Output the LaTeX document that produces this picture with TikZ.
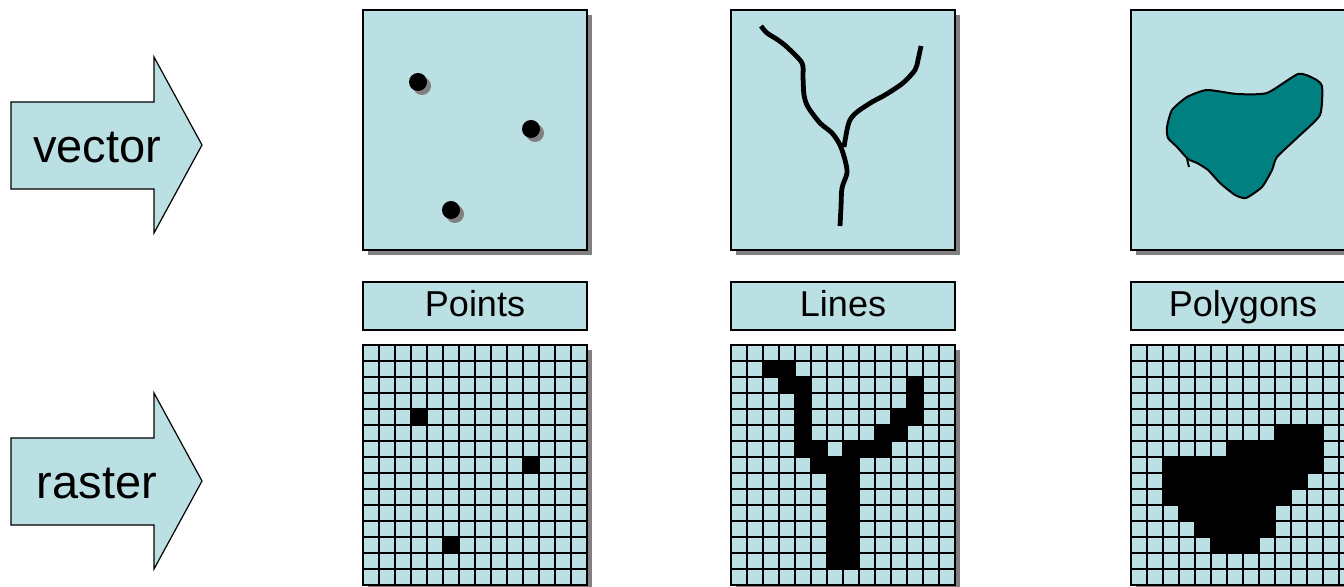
\documentclass[tikz,border=0pt]{standalone}
\usepackage{fontspec}
\setmainfont{Liberation Sans}
\usetikzlibrary{shadows}
\definecolor{pale}{HTML}{BBE0E3}
\definecolor{lake}{HTML}{008080}
\definecolor{darkgray}{HTML}{808080}

\begin{document}
\begin{tikzpicture}[
  x=0.5pt, y=-0.5pt,
  panel/.style={draw, line width=1.1pt, fill=pale, inner sep=0pt,
    minimum width=112pt, minimum height=120pt,
    drop shadow={shadow xshift=2.5pt, shadow yshift=-2.5pt, fill=darkgray, opacity=1}},
  tag/.style={draw, line width=1.1pt, fill=pale, inner sep=0pt,
    minimum width=112pt, minimum height=24pt, text height=12pt, text depth=1.5pt,
    font=\fontsize{18}{20}\selectfont},
  bigarrow/.style={draw, line width=0.6pt, fill=pale},
  word/.style={font=\fontsize{23.5}{26}\selectfont},
  stream/.style={line width=2.4pt, line join=round},
  gridline/.style={line width=1pt}
]
\useasboundingbox (0,0) rectangle (1344,587);
\clip (0,0) rectangle (1344,587);

% the two big arrows
\draw[bigarrow] (11,102) -- (154,102) -- (154,57) -- (202,145) -- (154,233)
  -- (154,189) -- (11,189) -- cycle;
\draw[bigarrow] (11,438) -- (154,438) -- (154,393) -- (202,481) -- (154,569)
  -- (154,525) -- (11,525) -- cycle;
\node[word] (vectxt) at (97,148) {vector};
\node[word] (rastxt) at (97,484) {raster};

% vector panels
\node[panel] (ptsvec) at (475,130) {};
\node[panel] (linvec) at (843,130) {};
\node[panel] (polvec) at (1243,130) {};

% raster panels
\node[panel] (ptsras) at (475,465) {};
\node[panel] (linras) at (843,465) {};
\node[panel] (polras) at (1243,465) {};

% captions
\node[tag] (ptstag) at (475,306) {Points};
\node[tag] (lintag) at (843,306) {Lines};
\node[tag] (poltag) at (1243,306) {Polygons};

% points
\foreach \px/\py in {418/82,531/129,451/210} {
  \fill[darkgray] (\px+4,\py+4) circle[radius=4.5pt];
  \fill[black] (\px,\py) circle[radius=4.5pt];
}

% lines
\draw[stream] plot[smooth, tension=0.5] coordinates {(761,26) (767,33) (778,40)
  (788,48) (802,63) (803,77) (804,95) (808,107) (820,123) (832,133) (840,145)
  (845,160) (847,173) (842,188) (841,207) (840,226)};
\draw[stream] plot[smooth, tension=0.5] coordinates {(921,46) (918,60) (915,70)
  (903,83) (885,95) (872,102) (857,112) (850,120) (847,130) (844,147)};

% polygon
\draw[line width=1pt, fill=lake] plot[smooth cycle, tension=0.35] coordinates {
  (1207,90) (1237,94) (1267,93) (1298,74) (1313,78) (1322,86) (1320,115)
  (1298,137) (1277,157) (1272,170) (1262,187) (1246,198) (1235,195) (1220,183)
  (1208,170) (1197,163) (1188,159) (1177,147) (1168,138) (1167,127) (1172,110)
  (1187,97)};
\draw[line width=1pt] (1187,159) -- (1189,167);

% raster cells
\foreach \c/\r in {3/4,10/7,5/12}
  \fill[black] (363+16*\c,345+16*\r) rectangle ++(16,16);
\foreach \r/\a/\b in {1/2/3,2/3/4,2/11/11,3/4/4,3/11/11,4/4/4,4/10/11,5/4/4,
    5/9/10,6/4/5,6/7/9,7/5/7,8/6/7,9/6/7,10/6/7,11/6/7,12/6/7,13/6/7}
  \fill[black] (731+16*\a,345+16*\r) rectangle (747+16*\b,361+16*\r);
\foreach \r/\a/\b in {5/9/11,6/6/11,7/2/11,8/2/10,9/2/9,10/3/8,11/4/8,12/5/7}
  \fill[black] (1131+16*\a,345+16*\r) rectangle (1147+16*\b,361+16*\r);

% raster grid lines
\foreach \gx in {363,731,1131} {
  \foreach \i in {1,...,13}
    \draw[gridline] (\gx+16*\i,345) -- ++(0,240);
  \foreach \j in {1,...,14}
    \draw[gridline] (\gx,345+16*\j) -- ++(224,0);
}
\end{tikzpicture}
\end{document}
